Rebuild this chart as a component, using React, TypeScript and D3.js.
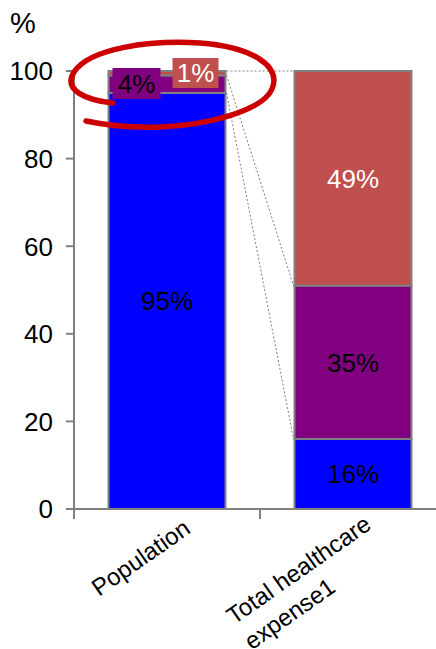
import React from "react";
import * as d3 from "d3";

const categories = ["Population", "Total healthcare expense1"];
const categoryLines = [["Population"], ["Total healthcare", "expense1"]];
const seriesNames = ["Low", "Mid", "High"];
const lowValues = [95, 16];
const midValues = [4, 35];
const highValues = [1, 49];
const yTicks = [0, 20, 40, 60, 80, 100];

const colors = ["#0000FF", "#800080", "#C0504D"];
const labelColors = ["#000000", "#000000", "#FFFFFF"];

const W = 436;
const H = 649;
const FONT = "Liberation Sans, Arial, sans-serif";

export default function App() {
  const y = d3.scaleLinear().domain([0, 100]).range([509, 71]);
  const x = d3
    .scaleBand<string>()
    .domain(categories)
    .range([74, 446])
    .paddingInner(0.371)
    .paddingOuter(0.1855);

  const rows = categories.map((c, i) => ({
    cat: c,
    Low: lowValues[i],
    Mid: midValues[i],
    High: highValues[i],
  }));
  const stacked = d3.stack<any>().keys(seriesNames)(rows);
  const bw = x.bandwidth();

  const x0 = x(categories[0])!;
  const x1 = x(categories[1])!;

  const b0 = [100, lowValues[0] + midValues[0], lowValues[0]];
  const b1 = [100, lowValues[1] + midValues[1], lowValues[1]];

  const ellipse =
    "M 113,103 C 85,100 63,90 74,72 C 90,48 150,40 200,43 C 252,47 282,66 272,89 C 263,110 210,125 160,127 C 130,128 105,125 86,121";

  const labelOffsets = [
    [-68, 88],
    [-119, 116],
  ];

  return (
    <svg width={W} height={H} style={{ position: "absolute", left: 0, top: 0 }} fontFamily={FONT}>
      <rect x={0} y={0} width={W} height={H} fill="#fff" />
      {stacked.map((s, si) =>
        s.map((d, i) => (
          <rect
            key={si + "-" + i}
            x={x(categories[i])}
            y={y(d[1])}
            width={bw}
            height={y(d[0]) - y(d[1])}
            fill={colors[si]}
            stroke="#808080"
            strokeWidth={2}
          />
        ))
      )}
      {b0.map((v, i) => (
        <line
          key={"c" + i}
          x1={x0 + bw + 1}
          y1={y(v)}
          x2={x1 - 1}
          y2={y(b1[i])}
          stroke="#808080"
          strokeWidth={1}
          strokeDasharray="2,2"
        />
      ))}
      <line x1={74} y1={y(100)} x2={74} y2={y(0)} stroke="#808080" strokeWidth={2} />
      <line x1={66} y1={y(0)} x2={446} y2={y(0)} stroke="#808080" strokeWidth={2} />
      {yTicks.map((t) => (
        <g key={t}>
          <line x1={66} y1={y(t)} x2={74} y2={y(t)} stroke="#808080" strokeWidth={2} />
          <text x={53} y={y(t)} dy="0.36em" textAnchor="end" fontSize={26} fill="#000">
            {t}
          </text>
        </g>
      ))}
      {[74, x1 - (x.step() - bw) / 2].map((tx, i) => (
        <line key={"xt" + i} x1={tx} y1={y(0)} x2={tx} y2={y(0) + 10} stroke="#808080" strokeWidth={2} />
      ))}
      <text x={10} y={33} fontSize={29} fill="#000">%</text>
      {categories.map((c, i) => {
        const cx = x(c)! + bw / 2 + labelOffsets[i][0];
        const cy = y(0) + labelOffsets[i][1];
        const lines = categoryLines[i];
        return (
          <text
            key={c}
            transform={`translate(${cx},${cy}) rotate(-35)`}
            textAnchor="start"
            fontSize={24}
            fill="#000"
          >
            {lines.map((l, li) => (
              <tspan key={li} x={0} dy={li === 0 ? 0 : 31}>
                {l}
              </tspan>
            ))}
          </text>
        );
      })}
      {stacked.map((s, si) =>
        s.map((d, i) => {
          if (i === 0 && si > 0) return null;
          return (
            <text
              key={"l" + si + i}
              x={x(categories[i])! + bw / 2}
              y={(y(d[0]) + y(d[1])) / 2}
              dy="0.36em"
              textAnchor="middle"
              fontSize={26}
              fill={labelColors[si]}
            >
              {Math.round(d[1] - d[0])}%
            </text>
          );
        })
      )}
      <rect x={x0 + 4} y={68} width={48} height={31} fill={colors[1]} />
      <text x={x0 + 28} y={84} dy="0.36em" textAnchor="middle" fontSize={26} fill={labelColors[1]}>
        {midValues[0]}%
      </text>
      <rect x={x0 + 64} y={58} width={46} height={30} fill={colors[2]} />
      <text x={x0 + 87} y={73} dy="0.36em" textAnchor="middle" fontSize={26} fill={labelColors[2]}>
        {highValues[0]}%
      </text>
      <path d={ellipse} fill="none" stroke="#CC0000" strokeWidth={5.5} strokeLinecap="round" />
    </svg>
  );
}
